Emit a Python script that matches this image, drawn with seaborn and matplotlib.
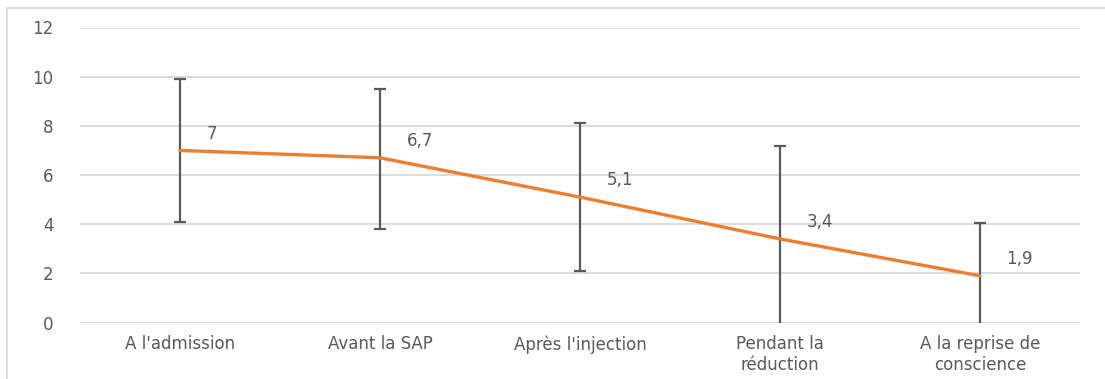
import matplotlib
matplotlib.use("Agg")
import matplotlib.pyplot as plt
import seaborn as sns
import pandas as pd
from matplotlib.patches import Rectangle

categories = ["A l'admission", "Avant la SAP", "Après l'injection",
              "Pendant la\nréduction", "A la reprise de\nconscience"]
means = [7.0, 6.7, 5.1, 3.4, 1.9]
err_low = [4.1, 3.8, 2.1, -0.4, -0.25]
err_high = [9.9, 9.5, 8.1, 7.2, 4.05]
value_labels = ["7", "6,7", "5,1", "3,4", "1,9"]
yticks = [0, 2, 4, 6, 8, 10, 12]

sns.set_theme(style="white")
plt.rcParams['font.family'] = ['DejaVu Sans']

fig = plt.figure(figsize=(11.05, 3.79), dpi=100)
ax = fig.add_axes([80/1105, 1-322.5/379, 1000/1105, 295/379])

df = pd.DataFrame({"cat": categories, "val": means})
pos = list(range(len(categories)))

lo = [m - l for m, l in zip(means, err_low)]
hi = [h - m for m, h in zip(means, err_high)]
ax.errorbar(pos, means, yerr=[lo, hi], fmt="none", ecolor="#595959",
            elinewidth=1.6, capsize=4.5, capthick=1.6, zorder=3)
sns.lineplot(data=df, x="cat", y="val", ax=ax, color="#ED7D31",
             linewidth=2.4, sort=False, zorder=4)

fs = 12
for p, m, t in zip(pos, means, value_labels):
    ax.annotate(t, (p, m), xytext=(19, 12), textcoords="offset points",
                ha="left", va="center", fontsize=fs, color="#595959")

ax.set_xlim(-0.5, 4.5)
ax.set_ylim(0, 12)
ax.set_yticks(yticks)
ax.set_xticks(pos)
ax.set_xticklabels(categories)
ax.yaxis.grid(True, color="#D9D9D9", linewidth=1.3)
ax.set_axisbelow(True)
for s in ax.spines.values():
    s.set_visible(False)
ax.tick_params(axis="y", length=0, pad=19, labelsize=fs, labelcolor="#595959")
ax.tick_params(axis="x", length=0, pad=9, labelsize=fs, labelcolor="#595959")
for lbl in ax.get_xticklabels():
    lbl.set_linespacing(1.2)
ax.set_xlabel("")
ax.set_ylabel("")

fig.patches.append(Rectangle((7/1105, -0.1), 1.2, 1 - 8/379 + 0.1,
                             transform=fig.transFigure, fill=False,
                             edgecolor="#D9D9D9", linewidth=1.3))

fig.savefig("out.png", dpi=100)
